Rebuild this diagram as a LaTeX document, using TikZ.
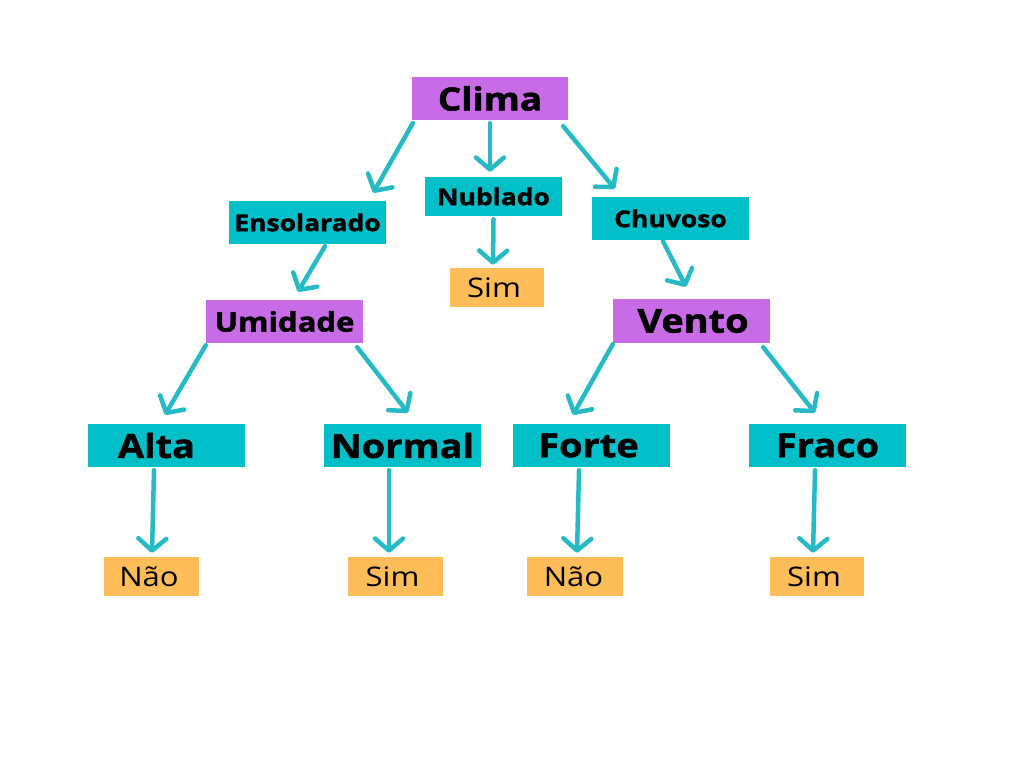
\documentclass[tikz,border=0pt]{standalone}
\usepackage{fontspec}
\setmainfont{Open Sans}[FakeStretch=1.15, BoldFeatures={FakeBold=1.5}]
\usetikzlibrary{arrows.meta,calc}
\definecolor{boxpurple}{RGB}{200,107,230}
\definecolor{boxteal}{RGB}{0,191,200}
\definecolor{boxorange}{RGB}{255,189,89}
\definecolor{arrowteal}{RGB}{38,186,197}
\tikzset{
  base/.style={inner sep=0pt, text=black, anchor=center},
  purplebox/.style={base, fill=boxpurple, minimum width=157pt, minimum height=43pt},
  tealbox/.style={base, fill=boxteal, minimum width=157pt, minimum height=43pt},
  leafbox/.style={base, fill=boxorange, minimum width=95pt, minimum height=39pt, font=\fontsize{27}{32}\selectfont},
  bigtxt/.style={font=\bfseries\fontsize{33}{39}\selectfont},
  midtxt/.style={font=\bfseries\fontsize{27}{32}\selectfont},
  smalltxt/.style={font=\bfseries\fontsize{23}{28}\selectfont},
  conn/.style={draw=arrowteal, line width=4.5pt, line cap=round,
    -{Straight Barb[length=12pt,width=28pt,round]}}
}
\newcommand{\txtpad}[1]{\hspace*{#1}}
\begin{document}
\begin{tikzpicture}[x=1pt,y=-1pt]
\useasboundingbox[fill=white] (0,0) rectangle (1024,768);
% nodes
\node[purplebox,bigtxt, minimum width=156pt, font=\bfseries\fontsize{32}{38}\selectfont] (clima) at (490,98.5) {Clima};
\node[tealbox,smalltxt, minimum width=137pt, minimum height=39pt] (nublado) at (493.5,196.5) {Nublado};
\node[tealbox,smalltxt] (ensol) at (307.5,222.5) {Ensolarado};
\node[tealbox,smalltxt] (chuvoso) at (670.5,218.5) {Chuvoso};
\node[leafbox, minimum width=94pt] (sim0) at (497,287.5) {Sim\txtpad{6pt}};
\node[purplebox,midtxt] (umidade) at (284.5,321.5) {Umidade};
\node[purplebox,bigtxt, minimum height=44pt] (vento) at (691.5,321) {\txtpad{3pt}Vento};
\node[tealbox,bigtxt] (alta) at (166.5,445.5) {Alta\txtpad{20pt}};
\node[tealbox,bigtxt] (normal) at (402.5,445.5) {Normal};
\node[tealbox,bigtxt] (forte) at (591.5,445.5) {Forte\txtpad{6pt}};
\node[tealbox,bigtxt] (fraco) at (827.5,445.5) {Fraco};
\node[leafbox] (nao1) at (151.5,576.5) {Não\txtpad{5pt}};
\node[leafbox] (sim1) at (395.5,576.5) {Sim\txtpad{6pt}};
\node[leafbox, minimum width=96pt] (nao2) at (575,576.5) {Não\txtpad{3pt}};
\node[leafbox, minimum width=94pt] (sim2) at (817,576.5) {Sim\txtpad{6pt}};
% connectors
\draw[conn] ($(clima.south west)+(1,3)$) -- ($(ensol.north east)+(-13,-8)$);
\draw[conn] ($(clima.south)+(0,3)$) -- ($(nublado.north)+(-3.5,-5)$);
\draw[conn] ($(clima.south east)+(-5,6)$) -- ($(chuvoso.north west)+(23,-8)$);
\draw[conn] ($(ensol.south)+(17.5,2)$) -- ($(umidade.north)+(13.5,-8)$);
\draw[conn] ($(nublado.south)+(0,3)$) -- ($(sim0.north)+(-4,-3)$);
\draw[conn] ($(chuvoso.south)+(-7.5,1)$) -- ($(vento.north)+(-5.5,-12)$);
\draw[conn] ($(umidade.south west)+(0,2)$) -- ($(alta.north)+(-1.5,-9)$);
\draw[conn] ($(umidade.south east)+(-6,4)$) -- ($(normal.north)+(5.5,-11)$);
\draw[conn] ($(vento.south west)+(0,1)$) -- ($(forte.north)+(-18.5,-9)$);
\draw[conn] ($(vento.south east)+(-7,4)$) -- ($(fraco.north)+(-12.5,-11)$);
\draw[conn] ($(alta.south)+(-12.5,3)$) -- ($(nao1.north)+(0.5,-4)$);
\draw[conn] ($(normal.south)+(-13.5,3)$) -- ($(sim1.north)+(-6.5,-4)$);
\draw[conn] ($(forte.south)+(-12.5,3)$) -- ($(nao2.north)+(2,-4)$);
\draw[conn] ($(fraco.south)+(-12.5,3)$) -- ($(sim2.north)+(-4,-4)$);
\end{tikzpicture}
\end{document}
